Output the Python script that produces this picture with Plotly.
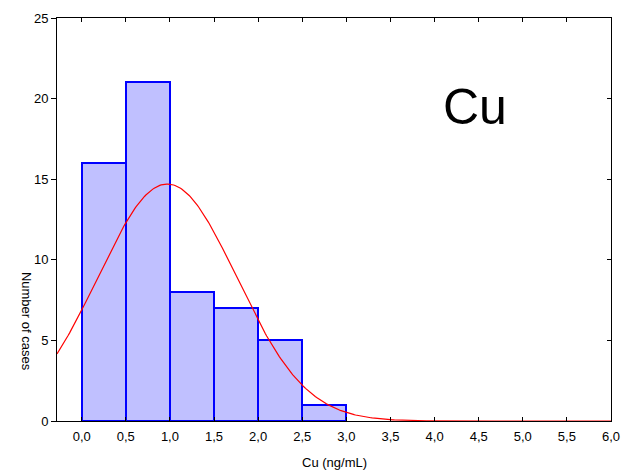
import numpy as np
import plotly.graph_objects as go

bin_left = [0.0, 0.5, 1.0, 1.5, 2.0, 2.5]
counts = [16, 21, 8, 7, 5, 1]
bin_width = 0.5
fit_mean = 0.97
fit_sd = 0.787
n_total = sum(counts)
x_ticks = [0.0, 0.5, 1.0, 1.5, 2.0, 2.5, 3.0, 3.5, 4.0, 4.5, 5.0, 5.5, 6.0]
x_ticktext = ["0,0", "0,5", "1,0", "1,5", "2,0", "2,5", "3,0", "3,5", "4,0", "4,5", "5,0", "5,5", "6,0"]
y_ticks = [0, 5, 10, 15, 20, 25]

x_range = [-0.28, 6.0]
y_range = [0, 25]

centers = [b + bin_width / 2 for b in bin_left]
xs = np.linspace(x_range[0], x_range[1], 400)
ys = n_total * bin_width / (fit_sd * np.sqrt(2 * np.pi)) * np.exp(-0.5 * ((xs - fit_mean) / fit_sd) ** 2)

fam = "Liberation Sans, Arial, sans-serif"
font = dict(family=fam, size=13, color="#000000")

fig = go.Figure()
fig.add_trace(go.Bar(x=centers, y=counts, width=bin_width,
                     marker=dict(color="#C0C0FF", line=dict(color="#0000FF", width=2)),
                     showlegend=False))
fig.add_trace(go.Scatter(x=xs, y=ys, mode="lines", line=dict(color="#FF0000", width=1.2),
                         showlegend=False))
fig.add_trace(go.Scatter(x=[None], y=[None], yaxis="y2", showlegend=False))

fig.update_layout(
    width=623, height=472, autosize=False,
    margin=dict(l=57, r=12, t=18, b=51, autoexpand=False),
    paper_bgcolor="white", plot_bgcolor="white",
    font=font,
    bargap=0,
    xaxis=dict(range=x_range, tickvals=x_ticks, ticktext=x_ticktext,
               ticks="inside", ticklen=4, tickcolor="black", mirror="ticks",
               showline=True, linecolor="black", linewidth=1, showgrid=False,
               zeroline=False, tickfont=font, ticklabelstandoff=3),
    yaxis=dict(range=y_range, tickvals=y_ticks, ticks="outside", ticklen=5,
               tickcolor="black", showline=True, linecolor="black", linewidth=1,
               showgrid=False, zeroline=False, tickfont=font, mirror=True),
    yaxis2=dict(range=y_range, tickvals=y_ticks, overlaying="y", side="right",
                ticks="inside", ticklen=4, tickcolor="black", showticklabels=False,
                showline=False, showgrid=False, zeroline=False),
    annotations=[
        dict(text="Cu", xref="paper", yref="paper", x=0.755, y=0.78,
             xanchor="center", yanchor="middle",
             showarrow=False, font=dict(family=fam, size=50, color="black")),
        dict(text="Cu (ng/mL)", xref="paper", yref="paper", x=0.5, y=-0.104,
             xanchor="center", yanchor="middle",
             showarrow=False, font=dict(family=fam, size=13, color="black")),
        dict(text="Number of cases", xref="paper", x=-0.056, yref="paper", y=0.246,
             xanchor="center", yanchor="middle",
             textangle=90, showarrow=False, font=dict(family=fam, size=13, color="black")),
    ],
)
fig.write_html("out.html", config={"displayModeBar": False},
               post_script="document.body.style.margin='0';document.body.style.overflow='hidden';")
